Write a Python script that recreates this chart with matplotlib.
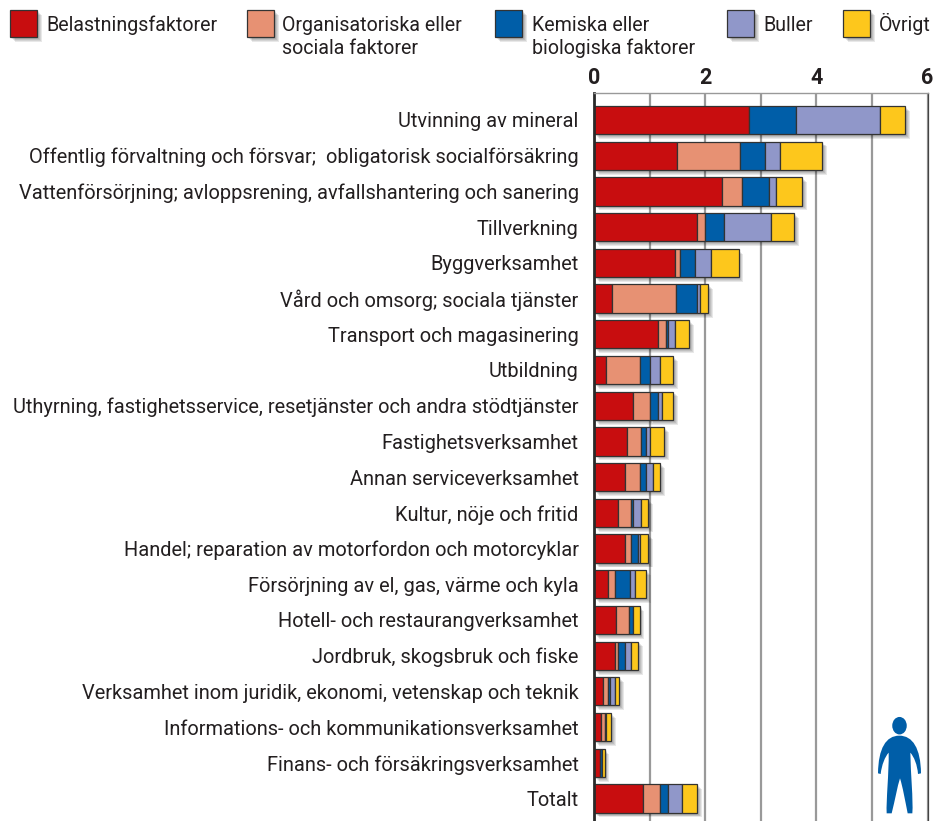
import matplotlib
matplotlib.use("Agg")
import matplotlib.pyplot as plt
import matplotlib.patheffects as pe
from matplotlib.patches import Rectangle, Ellipse, PathPatch
from matplotlib.path import Path
import numpy as np

plt.rcParams['font.family'] = ['Roboto', 'DejaVu Sans']

categories = ["Utvinning av mineral",
    "Offentlig förvaltning och försvar;  obligatorisk socialförsäkring",
    "Vattenförsörjning; avloppsrening, avfallshantering och sanering",
    "Tillverkning", "Byggverksamhet", "Vård och omsorg; sociala tjänster",
    "Transport och magasinering", "Utbildning",
    "Uthyrning, fastighetsservice, resetjänster och andra stödtjänster",
    "Fastighetsverksamhet", "Annan serviceverksamhet", "Kultur, nöje och fritid",
    "Handel; reparation av motorfordon och motorcyklar",
    "Försörjning av el, gas, värme och kyla", "Hotell- och restaurangverksamhet",
    "Jordbruk, skogsbruk och fiske",
    "Verksamhet inom juridik, ekonomi, vetenskap och teknik",
    "Informations- och kommunikationsverksamhet",
    "Finans- och försäkringsverksamhet", "Totalt"]
belastning = [2.78,1.49,2.30,1.85,1.45,.33,1.15,.22,.71,.59,.55,.44,.55,.26,.40,.37,.16,.12,.11,.89]
organisatoriska = [0,1.14,.37,.15,.10,1.15,.15,.60,.29,.26,.27,.23,.12,.11,.23,.07,.10,.07,0,.29]
kemiska = [.85,.44,.48,.33,.26,.37,.04,.18,.15,.08,.11,.04,.12,.27,.08,.11,.03,.03,.04,.16]
buller = [1.52,.27,.12,.86,.30,.05,.11,.18,.07,.07,.14,.14,.03,.10,0,.12,.08,0,0,.25]
ovrigt = [.45,.77,.48,.41,.49,.15,.26,.24,.20,.26,.12,.12,.15,.19,.11,.12,.08,.08,.04,.27]
series = [belastning, organisatoriska, kemiska, buller, ovrigt]
colors = ["#C80D0F", "#E79173", "#005EA8", "#9097C9", "#FDC71C"]
legend_labels = ["Belastningsfaktorer", "Organisatoriska eller\nsociala faktorer",
                 "Kemiska eller\nbiologiska faktorer", "Buller", "Övrigt"]
xticks = [0, 2, 4, 6]

W, H = 933, 821
TXT = "#231F20"
FS = 14.45
fig = plt.figure(figsize=(W/100, H/100), dpi=100)
ax = fig.add_axes([594/W, 0, 333.5/W, (H-93)/H])
shadow = [pe.SimplePatchShadow(offset=(o, -o), alpha=0.09, shadow_rgbFace="#000000")
          for o in (3.5, 2.8, 2.1, 1.4)] + [pe.Normal()]

y = np.arange(len(categories))
left = np.zeros(len(categories))
for vals, c in zip(series, colors):
    vals = np.array(vals)
    mask = vals > 0
    bars = ax.barh(y[mask], vals[mask], left=left[mask], height=0.79, color=c,
                   edgecolor="#333333", linewidth=0.9, zorder=3)
    for b in bars:
        b.set_path_effects(shadow)
    left += vals

ax.set_xlim(0, 6)
ax.set_ylim(19.63, -0.756)
ax.xaxis.tick_top()
ax.set_xticks(xticks)
ax.set_xticks(range(7), minor=True)
ax.set_yticks(y)
ax.set_yticklabels(categories, fontsize=FS, color=TXT, ha="right")
ax.tick_params(axis="y", length=0, pad=11)
ax.tick_params(axis="x", which="both", length=0, pad=3)
for t in ax.get_xticklabels():
    t.set_fontsize(15.5); t.set_fontweight("bold"); t.set_color(TXT)
ax.grid(True, axis="x", which="both", color="#999999", linewidth=1.6, zorder=1)
ax.set_axisbelow(True)
ax.spines["bottom"].set_visible(False)
ax.spines["top"].set_color("#999999"); ax.spines["top"].set_linewidth(1.0)
ax.spines["right"].set_color("#444444"); ax.spines["right"].set_linewidth(0.9)
ax.spines["left"].set_color("#2A2A2A"); ax.spines["left"].set_linewidth(2.0)
for s in ax.spines.values():
    s.set_zorder(5)

ov = fig.add_axes([0, 0, 1, 1], facecolor="none")
ov.set_xlim(0, W); ov.set_ylim(H, 0); ov.axis("off")
sw_x = [10, 247, 495, 727, 843]
tx_x = [46, 282, 532, 763, 879]
for sx, tx, c, lab in zip(sw_x, tx_x, colors, legend_labels):
    r = Rectangle((sx, 10), 27, 27, facecolor=c, edgecolor="#333333", linewidth=0.9)
    r.set_path_effects(shadow)
    ov.add_patch(r)
    for base, line in zip((31, 54), lab.split("\n")):
        ov.text(tx, base, line, fontsize=14.1, color=TXT, va="baseline", ha="left")

# Person icon (decoration)
BLUE = "#005EA8"
ov.add_patch(Ellipse((899.5, 725.7), 14.5, 17.5, facecolor=BLUE, edgecolor="none"))
def p(zx, zy):
    return (590 + zx/3, 560 + zy/3)
verts = [p(928,527),
    p(968,527),p(992,565),p(993,640),
    p(984,642),
    p(982,615),p(972,590),p(961,578),
    p(962,640),p(970,720),p(967,760),
    p(953,760),
    p(945,720),p(938,680),p(930,655),
    p(922,680),p(915,720),p(905,760),
    p(890,760),
    p(888,720),p(897,640),p(896,578),
    p(885,590),p(875,615),p(872,642),
    p(864,640),
    p(865,565),p(888,527),p(928,527)]
codes = [Path.MOVETO, Path.CURVE4,Path.CURVE4,Path.CURVE4, Path.LINETO,
    Path.CURVE4,Path.CURVE4,Path.CURVE4, Path.CURVE4,Path.CURVE4,Path.CURVE4,
    Path.LINETO, Path.CURVE4,Path.CURVE4,Path.CURVE4, Path.CURVE4,Path.CURVE4,Path.CURVE4,
    Path.LINETO, Path.CURVE4,Path.CURVE4,Path.CURVE4, Path.CURVE4,Path.CURVE4,Path.CURVE4,
    Path.LINETO, Path.CURVE4,Path.CURVE4,Path.CURVE4]
ov.add_patch(PathPatch(Path(verts, codes), facecolor=BLUE, edgecolor="none"))

fig.savefig("out.png", dpi=100)
